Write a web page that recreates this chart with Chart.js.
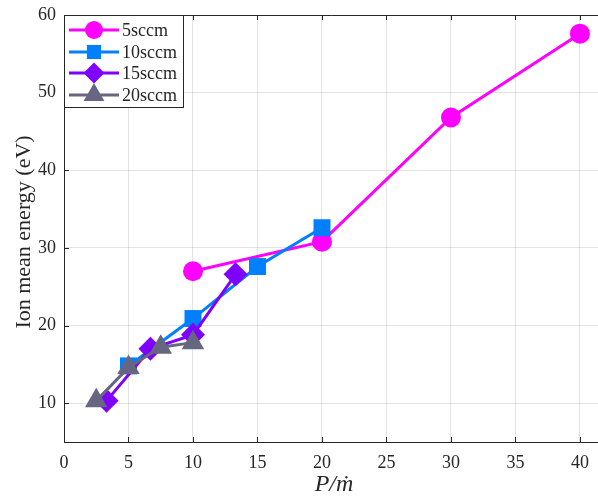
<!DOCTYPE html>
<html>
<head>
<meta charset="utf-8">
<script src="https://cdn.jsdelivr.net/npm/chart.js@4/dist/chart.umd.min.js"></script>
<style>
  html, body { margin: 0; padding: 0; background: #fff; }
  #wrap { width: 598px; height: 500px; }
</style>
</head>
<body>
<div id="wrap"><canvas id="chartIon"></canvas></div>
<script>
const seriesNames = ["5sccm", "10sccm", "15sccm", "20sccm"];
const x5 = [10, 20, 30, 40];
const y5 = [27.0, 30.8, 46.8, 57.6];
const x10 = [5, 10, 15, 20];
const y10 = [14.8, 20.9, 27.6, 32.6];
const x15 = [3.3, 6.7, 10, 13.3];
const y15 = [10.3, 17.0, 18.8, 26.6];
const x20 = [2.5, 5, 7.5, 10];
const y20 = [10.3, 14.6, 17.2, 17.8];
const xTitle = "P/ṁ";
const yTitle = "Ion mean energy (eV)";

const axisColor = "#262626";
const serif = "'Liberation Serif', 'Times New Roman', serif";
Chart.defaults.font.family = serif;

const pts = (xs, ys) => xs.map((x, i) => ({ x: x, y: ys[i] }));

const styles = [
  { color: "#ff00ff", shape: "circle", radius: 10, order: 4 },
  { color: "#0080ff", shape: "rect", radius: 12, order: 3 },
  { color: "#7f00ff", shape: "rectRot", radius: 12, order: 2 },
  { color: "#666680", shape: "triangle", radius: 13, order: 1 },
];
const allData = [pts(x5, y5), pts(x10, y10), pts(x15, y15), pts(x20, y20)];

function drawMarker(ctx, shape, x, y, r) {
  ctx.beginPath();
  if (shape === "circle") {
    ctx.arc(x, y, r, 0, Math.PI * 2);
  } else if (shape === "rect") {
    const s = r / Math.SQRT2;
    ctx.rect(x - s, y - s, 2 * s, 2 * s);
  } else if (shape === "rectRot") {
    ctx.moveTo(x, y - r); ctx.lineTo(x + r, y); ctx.lineTo(x, y + r); ctx.lineTo(x - r, y);
    ctx.closePath();
  } else {
    for (let k = 0; k < 3; k++) {
      const a = k * 2 * Math.PI / 3;
      const px = x + Math.sin(a) * r, py = y - Math.cos(a) * r;
      if (k === 0) ctx.moveTo(px, py); else ctx.lineTo(px, py);
    }
    ctx.closePath();
  }
  ctx.fill();
}

const framePlugin = {
  id: "frame",
  afterDraw(chart) {
    const ctx = chart.ctx;
    const a = chart.chartArea;
    const xs = chart.scales.x, ys = chart.scales.y;
    ctx.save();
    ctx.strokeStyle = axisColor;
    ctx.lineWidth = 1;
    ctx.beginPath();
    ctx.moveTo(a.left + 0.5, a.bottom + 0.5);
    ctx.lineTo(a.left + 0.5, a.top + 0.5);
    ctx.lineTo(a.right, a.top + 0.5);
    ctx.moveTo(a.left, a.bottom + 0.5);
    ctx.lineTo(a.right, a.bottom + 0.5);
    // inward ticks
    xs.ticks.forEach(t => {
      const px = Math.round(xs.getPixelForValue(t.value)) + 0.5;
      ctx.moveTo(px, a.bottom); ctx.lineTo(px, a.bottom - 5);
      ctx.moveTo(px, a.top); ctx.lineTo(px, a.top + 5);
    });
    ys.ticks.forEach(t => {
      const py = Math.round(ys.getPixelForValue(t.value)) + 0.5;
      ctx.moveTo(a.left, py); ctx.lineTo(a.left + 5, py);
    });
    ctx.stroke();

    // legend
    const lx = 64.5, ly = 15.5, lw = 119, lh = 92;
    ctx.fillStyle = "#fff";
    ctx.fillRect(lx, ly, lw, lh);
    ctx.strokeRect(lx, ly, lw, lh);
    const rowY = [30, 52, 73, 95];
    const legR = [9, 10, 10.5, 12];
    seriesNames.forEach((name, i) => {
      const st = styles[i];
      ctx.strokeStyle = st.color;
      ctx.fillStyle = st.color;
      ctx.lineWidth = 3;
      ctx.beginPath();
      ctx.moveTo(69, rowY[i]); ctx.lineTo(119, rowY[i]);
      ctx.stroke();
      drawMarker(ctx, st.shape, 94, rowY[i], legR[i]);
      ctx.fillStyle = axisColor;
      ctx.font = "18px " + serif;
      ctx.textAlign = "left";
      ctx.textBaseline = "middle";
      ctx.fillText(name, 122, rowY[i] + 1);
    });

    // axis titles
    ctx.fillStyle = axisColor;
    ctx.font = "italic 24px " + serif;
    ctx.textAlign = "center";
    ctx.textBaseline = "middle";
    ctx.fillText(xTitle, 334, 485);
    ctx.save();
    ctx.translate(24, 232);
    ctx.rotate(-Math.PI / 2);
    ctx.font = "22px " + serif;
    ctx.fillText(yTitle, 0, 0);
    ctx.restore();
    ctx.restore();
  }
};

document.addEventListener("DOMContentLoaded", () => {
  new Chart(document.querySelector("#chartIon"), {
    type: "line",
    data: {
      datasets: allData.map((d, i) => ({
        label: seriesNames[i],
        data: d,
        borderColor: styles[i].color,
        backgroundColor: styles[i].color,
        pointBackgroundColor: styles[i].color,
        pointBorderColor: styles[i].color,
        pointBorderWidth: 0,
        pointStyle: styles[i].shape,
        pointRadius: styles[i].radius,
        pointHoverRadius: styles[i].radius,
        borderWidth: 3,
        tension: 0,
        fill: false,
        order: styles[i].order,
      })),
    },
    options: {
      responsive: true,
      maintainAspectRatio: false,
      animation: false,
      layout: { autoPadding: false, padding: { left: 0, right: 0, top: 15, bottom: 0 } },
      scales: {
        x: {
          type: "linear",
          min: 0,
          max: 41.4,
          afterFit: s => { s.height = 58; s.paddingLeft = 0; s.paddingRight = 0; },
          grid: { color: "rgba(38,38,38,0.13)", drawTicks: false },
          border: { display: false },
          ticks: {
            stepSize: 5,
            includeBounds: false,
            color: axisColor,
            padding: 10,
            maxRotation: 0,
            font: { family: serif, size: 18 },
          },
        },
        y: {
          min: 5,
          max: 60,
          afterFit: s => { s.width = 64; s.paddingTop = 0; s.paddingBottom = 0; },
          grid: { color: "rgba(38,38,38,0.13)", drawTicks: false },
          border: { display: false },
          ticks: {
            stepSize: 10,
            includeBounds: false,
            color: axisColor,
            padding: 8,
            font: { family: serif, size: 18 },
          },
        },
      },
      plugins: {
        legend: { display: false },
        tooltip: { enabled: false },
      },
    },
    plugins: [framePlugin],
  });
});
</script>
</body>
</html>
